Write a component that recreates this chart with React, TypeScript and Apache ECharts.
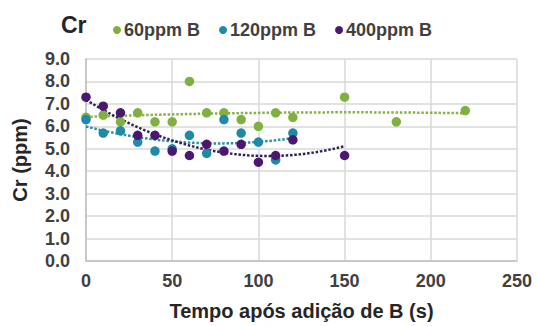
import React, { useEffect, useRef } from "react";
import * as echarts from "echarts";

const seriesNames = ["60ppm B", "120ppm B", "400ppm B"];
const colors = ["#7fb040", "#1f8aa8", "#4a1870"];
const trendColors = ["#86b443", "#2a8fa8", "#2e1f5a"];

const time60 = [0, 10, 20, 30, 40, 50, 60, 70, 80, 90, 100, 110, 120, 150, 180, 220];
const cr60 = [6.4, 6.5, 6.2, 6.6, 6.2, 6.2, 8.0, 6.6, 6.6, 6.3, 6.0, 6.6, 6.4, 7.3, 6.2, 6.7];

const time120 = [0, 10, 20, 30, 40, 50, 60, 70, 80, 90, 100, 110, 120];
const cr120 = [6.3, 5.7, 5.8, 5.3, 4.9, 5.0, 5.6, 4.8, 6.3, 5.7, 5.3, 4.5, 5.7];

const time400 = [0, 10, 20, 30, 40, 50, 60, 70, 80, 90, 100, 110, 120, 150];
const cr400 = [7.3, 6.9, 6.6, 5.6, 5.6, 4.9, 4.7, 5.2, 4.9, 5.2, 4.4, 4.7, 5.4, 4.7];

const yTicks = [0, 1, 2, 3, 4, 5, 6, 7, 8, 9];
const xTicks = [0, 50, 100, 150, 200, 250];

// least-squares quadratic fit (like an order-2 polynomial trendline)
function quadFit(xs: number[], ys: number[]) {
  const n = xs.length;
  let s0 = n, s1 = 0, s2 = 0, s3 = 0, s4 = 0, t0 = 0, t1 = 0, t2 = 0;
  for (let i = 0; i < n; i++) {
    const x = xs[i], y = ys[i];
    s1 += x; s2 += x * x; s3 += x * x * x; s4 += x * x * x * x;
    t0 += y; t1 += x * y; t2 += x * x * y;
  }
  const M = [
    [s0, s1, s2, t0],
    [s1, s2, s3, t1],
    [s2, s3, s4, t2],
  ];
  for (let c = 0; c < 3; c++) {
    let p = c;
    for (let r = c + 1; r < 3; r++) if (Math.abs(M[r][c]) > Math.abs(M[p][c])) p = r;
    [M[c], M[p]] = [M[p], M[c]];
    for (let r = 0; r < 3; r++) {
      if (r === c) continue;
      const f = M[r][c] / M[c][c];
      for (let k = c; k < 4; k++) M[r][k] -= f * M[c][k];
    }
  }
  const a = M[0][3] / M[0][0], b = M[1][3] / M[1][1], cc = M[2][3] / M[2][2];
  return (x: number) => a + b * x + cc * x * x;
}

function trendPoints(xs: number[], ys: number[]) {
  const f = quadFit(xs, ys);
  const xmin = Math.min(...xs), xmax = Math.max(...xs);
  const pts: number[][] = [];
  for (let x = xmin; x <= xmax + 1e-9; x += 2) pts.push([x, f(x)]);
  return pts;
}

export default function App() {
  const ref = useRef<HTMLDivElement>(null);
  useEffect(() => {
    if (!ref.current) return;
    const chart = echarts.init(ref.current, null, { renderer: "svg" });
    const sets = [
      [time60, cr60],
      [time120, cr120],
      [time400, cr400],
    ];
    const font = "'Liberation Sans', Arial, sans-serif";
    const scatter = sets.map((s, i) => ({
      name: seriesNames[i],
      type: "scatter",
      symbolSize: 9.5,
      itemStyle: { color: colors[i], opacity: 1 },
      data: s[0].map((x, j) => [x, s[1][j]]),
      z: 3,
    }));
    const trends = sets.map((s, i) => ({
      name: "trend" + i,
      type: "line",
      showSymbol: false,
      symbol: "none",
      lineStyle: { color: trendColors[i], width: 2.5, type: [2.5, 1.8] },
      data: trendPoints(s[0], s[1]),
      z: 2,
    }));
    chart.setOption({
      animation: false,
      title: {
        text: "Cr",
        left: 56,
        top: 8,
        textStyle: { fontSize: 23, fontWeight: "bold", color: "#262626", fontFamily: font },
      },
      legend: {
        data: seriesNames,
        left: 108,
        top: 16,
        icon: "circle",
        itemWidth: 8,
        itemHeight: 8,
        itemGap: 19,
        textStyle: { fontSize: 18, fontWeight: "bold", color: "#404040", fontFamily: font, padding: [0, 0, 0, -2] },
      },
      grid: { left: 86, right: 20, top: 59, bottom: 65 },
      xAxis: {
        type: "value",
        min: xTicks[0],
        max: xTicks[xTicks.length - 1],
        interval: 50,
        name: "Tempo após adição de B (s)",
        nameLocation: "middle",
        nameGap: 40,
        nameTextStyle: { fontSize: 20, fontWeight: "bold", color: "#262626", fontFamily: font },
        axisLine: { show: true, lineStyle: { color: "#bfbfbf", width: 1.5 } },
        axisTick: { show: false },
        splitLine: { show: true, lineStyle: { color: "#d9d9d9", width: 1.5 } },
        axisLabel: { margin: 11, fontSize: 18, fontWeight: "bold", color: "#404040", fontFamily: font },
      },
      yAxis: {
        type: "value",
        min: yTicks[0],
        max: yTicks[yTicks.length - 1],
        interval: 1,
        name: "Cr (ppm)",
        nameLocation: "middle",
        nameRotate: 90,
        nameGap: 56,
        nameTextStyle: { fontSize: 20, fontWeight: "bold", color: "#262626", fontFamily: font },
        axisLine: { show: true, lineStyle: { color: "#bfbfbf", width: 1.5 } },
        axisTick: { show: false },
        splitLine: { show: true, lineStyle: { color: "#d9d9d9", width: 1.5 } },
        axisLabel: {
          margin: 16,
          fontSize: 18,
          fontWeight: "bold",
          color: "#404040",
          fontFamily: font,
          formatter: (v: number) => v.toFixed(1),
        },
      },
      series: [...trends, ...scatter],
    });
    return () => chart.dispose();
  }, []);
  return <div ref={ref} style={{ width: 537, height: 326, position: "absolute", left: 0, top: 0, background: "#fff" }} />;
}
